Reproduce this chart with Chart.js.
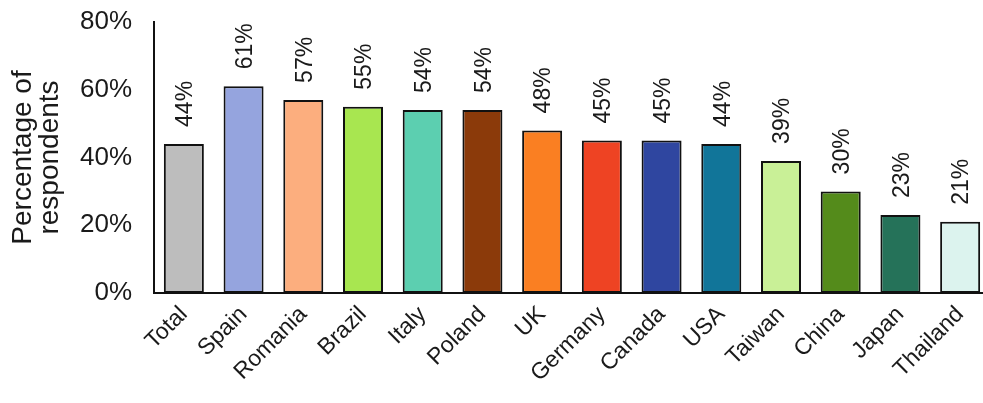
<!DOCTYPE html>
<html>
<head>
<meta charset="utf-8">
<script src="https://cdn.jsdelivr.net/npm/chart.js@4"></script>
<style>
  html, body { margin: 0; padding: 0; background: #fff; overflow: hidden; }
  #wrap { width: 990px; height: 403px; }
</style>
</head>
<body>
<div id="wrap"><canvas id="chart"></canvas></div>
<script>
// ── Data ────────────────────────────────────────────────
const countries = ["Total", "Spain", "Romania", "Brazil", "Italy", "Poland", "UK",
                   "Germany", "Canada", "USA", "Taiwan", "China", "Japan", "Thailand"];
const shares    = [44, 61, 57, 55, 54, 54, 48, 45, 45, 44, 39, 30, 23, 21];
const barColors = ["#bdbdbd", "#95a4de", "#fcae7e", "#a8e650", "#5ccfb0", "#8b3a0a", "#fa7f22",
                   "#ee4323", "#2f46a0", "#117599", "#c9f097", "#548b1b", "#257259", "#dcf3ee"];
const yTicks    = [0, 20, 40, 60, 80];

const FONT = "'Liberation Sans', Arial, sans-serif";
const INK  = "#1a1a1a";

// ── Rotated value labels above bars ─────────────────────
const valueLabels = {
  id: "valueLabels",
  afterDatasetsDraw(chart) {
    const { ctx } = chart;
    const meta = chart.getDatasetMeta(0);
    ctx.save();
    ctx.fillStyle = INK;
    ctx.font = "23px " + FONT;
    ctx.textAlign = "left";
    ctx.textBaseline = "middle";
    meta.data.forEach((bar, i) => {
      ctx.save();
      ctx.translate(bar.x + 2, bar.y - 17);
      ctx.rotate(-Math.PI / 2);
      ctx.fillText(shares[i] + "%", 0, 0);
      ctx.restore();
    });
    ctx.restore();
  }
};

// ── Chart ───────────────────────────────────────────────
new Chart(document.getElementById("chart"), {
  type: "bar",
  data: {
    labels: countries,
    datasets: [{
      data: shares,
      backgroundColor: barColors,
      borderColor: "#111",
      borderWidth: 2,
      borderSkipped: false,
      barPercentage: 0.67,
      categoryPercentage: 1
    }]
  },
  options: {
    responsive: true,
    maintainAspectRatio: false,
    animation: false,
    layout: { padding: { top: 22, right: 0, bottom: 0, left: 0 } },
    plugins: {
      legend: { display: false },
      tooltip: { enabled: false }
    },
    scales: {
      x: {
        grid: { display: false, drawTicks: false },
        border: { color: "#111", width: 2 },
        ticks: {
          color: INK,
          font: { family: FONT, size: 23 },
          minRotation: 45,
          maxRotation: 45,
          autoSkip: false,
          padding: 8
        },
        afterFit: (scale) => { scale.height = 110; }
      },
      y: {
        min: 0,
        max: 80,
        afterBuildTicks: (scale) => { scale.ticks = yTicks.map(v => ({ value: v })); },
        grid: { display: false, drawOnChartArea: false, drawTicks: true, tickLength: 8, tickColor: "#111", tickWidth: 2 },
        border: { color: "#111", width: 2 },
        ticks: {
          color: INK,
          font: { family: FONT, size: 26 },
          padding: 14,
          callback: (v) => v + "%"
        },
        title: {
          display: true,
          text: ["Percentage of", "respondents"],
          color: INK,
          font: { family: FONT, size: 28, lineHeight: 0.95 },
          padding: { top: 10, bottom: 4 }
        },
        afterFit: (scale) => {
          scale.width = 154;
          scale.paddingTop = 0;
          scale.paddingBottom = 0;
        }
      }
    }
  },
  plugins: [valueLabels]
});
</script>
</body>
</html>
